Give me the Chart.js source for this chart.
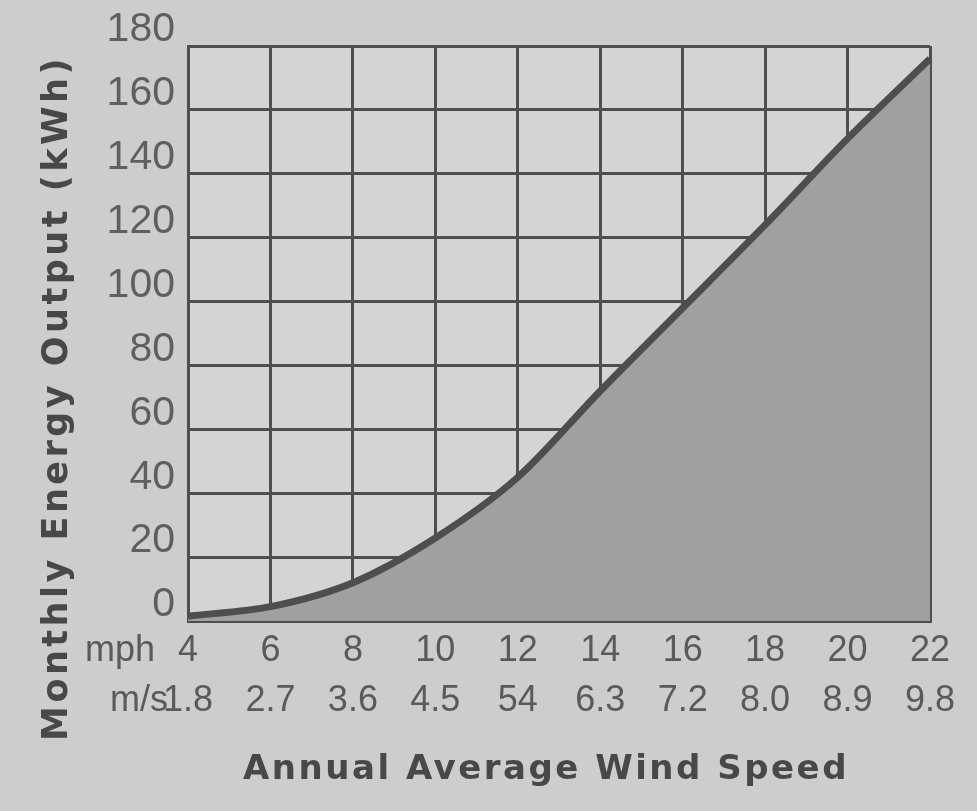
<!DOCTYPE html>
<html><head><meta charset="utf-8">
<script src="https://cdn.jsdelivr.net/npm/chart.js@4/dist/chart.umd.min.js"></script>
<style>html,body{margin:0;padding:0;background:#cdcdcd;overflow:hidden}#wrap{width:977px;height:811px}</style>
</head><body><div id="wrap"><canvas id="c" width="977" height="811"></canvas></div>
<script>
// ---- data ----
const mphTicks = ['4','6','8','10','12','14','16','18','20','22'];
const msTicks = ['1.8','2.7','3.6','4.5','54','6.3','7.2','8.0','8.9','9.8'];
const energyKWh = [1.5, 4.5, 12, 26, 45, 72, 98, 124, 151, 176];
const yTicks = [0, 20, 40, 60, 80, 100, 120, 140, 160, 180];
const yTitle = 'Monthly Energy Output (kWh)';
const xTitle = 'Annual Average Wind Speed';
const rowUnits = ['mph', 'm/s'];

const tickFont = "'Liberation Sans Narrow', 'Liberation Sans', sans-serif";
const titleFont = "'DejaVu Sans', 'Liberation Sans', sans-serif";

const decor = {
  id: 'decor',
  beforeDraw(chart) {
    const {ctx, chartArea: a} = chart;
    ctx.save();
    ctx.fillStyle = '#d4d4d4';
    ctx.fillRect(a.left, a.top, a.right - a.left, a.bottom - a.top);
    ctx.restore();
  },
  afterDraw(chart) {
    const {ctx, chartArea: a} = chart;
    ctx.save();
    ctx.fillStyle = '#5a5a5a';
    ctx.font = "36px " + tickFont;
    ctx.textAlign = 'right';
    ctx.textBaseline = 'middle';
    ctx.fillText(rowUnits[0], a.left - 33, a.bottom + 30);
    ctx.fillText(rowUnits[1], a.left - 20, a.bottom + 80);
    ctx.fillStyle = '#484848';
    ctx.font = "bold 34px " + titleFont;
    try { ctx.letterSpacing = '2.5px'; } catch (e) {}
    ctx.textAlign = 'center';
    ctx.fillText(xTitle, 546, 770);
    ctx.translate(58, 398);
    ctx.rotate(-Math.PI / 2);
    try { ctx.letterSpacing = '3.5px'; } catch (e) {}
    ctx.font = "bold 35px " + titleFont;
    ctx.fillText(yTitle, 0, 0);
    ctx.restore();
  }
};

new Chart(document.getElementById('c'), {
  type: 'line',
  data: {
    labels: mphTicks.map((m, i) => [m, msTicks[i]]),
    datasets: [{
      data: energyKWh,
      borderColor: '#4e4e4e',
      borderWidth: 7,
      backgroundColor: '#a0a0a0',
      fill: 'origin',
      pointRadius: 0,
      tension: 0.3
    }]
  },
  options: {
    responsive: false,
    animation: false,
    layout: { padding: { left: 68, right: 47, top: 46, bottom: 0 } },
    plugins: { legend: { display: false }, tooltip: { enabled: false } },
    scales: {
      x: {
        offset: false,
        grid: { color: '#4f4f4f', lineWidth: 3, drawTicks: false },
        border: { color: '#4f4f4f', width: 3 },
        ticks: {
          autoSkip: false, maxRotation: 0, minRotation: 0,
          color: '#5a5a5a', padding: 5,
          font: { family: tickFont, size: 36, lineHeight: 1.39 }
        },
        afterFit(s) { s.height = 190; }
      },
      y: {
        min: 0, max: 180,
        afterBuildTicks(s) { s.ticks = yTicks.map(v => ({ value: v })); },
        grid: { color: '#4f4f4f', lineWidth: 3, drawTicks: false },
        border: { color: '#4f4f4f', width: 3 },
        ticks: {
          color: '#5f5f5f', padding: 13, labelOffset: -16,
          font: { family: tickFont, size: 41 }
        },
        afterFit(s) { s.width = 120; }
      }
    }
  },
  plugins: [decor]
});
</script>
</body></html>
